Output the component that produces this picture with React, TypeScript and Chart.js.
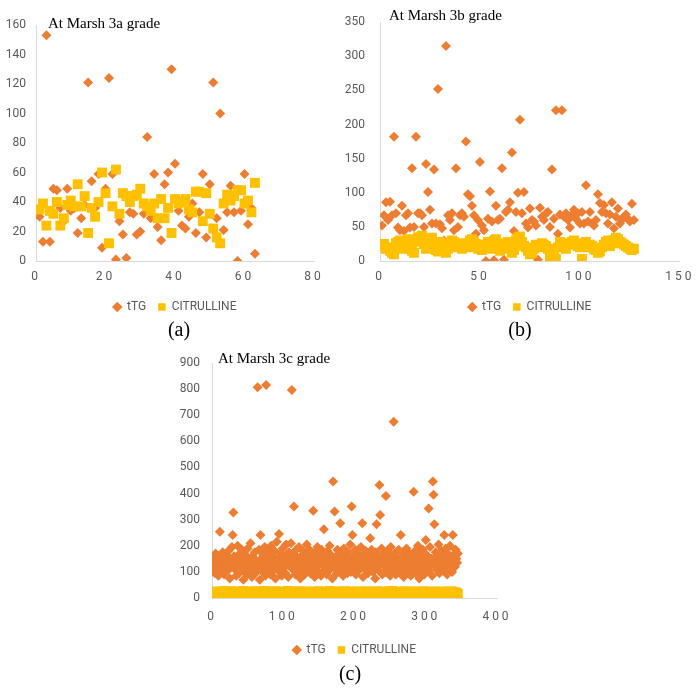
import React, { useEffect, useRef } from "react";
import { Chart, registerables } from "chart.js";
Chart.register(...registerables);

const ORANGE = "#ED7D31";
const GOLD = "#FFC000";
const TICK = "#595959";
const AXIS = "#D9D9D9";
const FONT = "Roboto";
const SERIES = ["tTG", "CITRULLINE"];

// ---------- Panel (a): Marsh 3a ----------
const A_TTG = [
  30, 13, 153, 13, 49, 48, 36, 27, 49, 34, 36, 19, 29, 38, 121, 54, 36, 59, 9, 49,
  124, 59, 1, 27, 18, 2, 33, 32, 18, 20, 32, 84, 29, 59, 23, 14, 52, 60, 130, 66,
  34, 24, 22, 30, 39, 19, 33, 59, 16, 52, 121, 29, 100, 21, 33, 51, 33, 0, 34, 59,
  25, 36, 5,
];
const A_CIT = [
  35, 39, 24, 34, 32, 40, 24, 29, 38, 41, 37, 52, 37, 44, 19, 36, 30, 40, 60, 46,
  12, 37, 62, 32, 46, 44, 40, 44, 45, 49, 39, 37, 34, 39, 29, 42, 29, 36, 19, 42,
  39, 40, 42, 35, 33, 47, 47, 27, 46, 32, 22, 16, 12, 39, 45, 41, 44, 48, 48, 39,
  41, 33, 53,
];
const A_XTICKS = [0, 20, 40, 60, 80];
const A_YTICKS = [0, 20, 40, 60, 80, 100, 120, 140, 160];

// ---------- Panel (b): Marsh 3b ----------
const B_TTG = [
  52, 67, 86, 60, 87, 67, 182, 70, 49, 45, 81, 44, 67, 70, 49, 136, 50, 182, 70, 70,
  67, 50, 142, 101, 75, 55, 134, 55, 252, 54, 48, 30, 315, 67, 60, 70, 45, 136, 50, 67,
  70, 65, 175, 98, 95, 81, 67, 40, 60, 145, 52, 45, 0, 62, 102, 58, 1, 81, 60, 62,
  136, 2, 72, 75, 86, 159, 44, 72, 100, 207, 70, 101, 55, 49, 77, 60, 58, 52, 2, 78,
  65, 60, 70, 72, 50, 134, 62, 221, 40, 68, 221, 65, 70, 60, 49, 68, 75, 62, 70, 55,
  72, 55, 111, 58, 72, 55, 52, 60, 98, 85, 72, 82, 70, 55, 68, 86, 48, 65, 77, 55,
  60, 65, 68, 62, 58, 84, 60,
];
const B_CIT = [
  22, 25, 18, 20, 15, 12, 10, 26, 28, 30, 22, 18, 20, 32, 24, 15, 12, 30, 35, 28,
  37, 25, 18, 20, 30, 34, 22, 16, 14, 28, 26, 20, 12, 18, 25, 30, 28, 22, 20, 24,
  18, 26, 22, 20, 30, 32, 28, 25, 18, 22, 16, 20, 24, 28, 22, 18, 30, 32, 26, 15,
  20, 24, 22, 28, 18, 12, 16, 30, 34, 36, 28, 22, 20, 15, 10, 12, 18, 24, 22, 20,
  26, 24, 22, 18, 6, 12, 16, 3, 20, 28, 24, 22, 18, 25, 26, 28, 30, 24, 22, 20,
  3, 26, 28, 20, 24, 22, 18, 16, 12, 14, 20, 24, 28, 30, 22, 26, 30, 34, 32, 28,
  26, 24, 22, 20, 18, 16, 18,
];
const B_XTICKS = [0, 50, 100, 150];
const B_YTICKS = [0, 50, 100, 150, 200, 250, 300, 350];

// ---------- Panel (c): Marsh 3c ----------
const C_TTG = [
  140, 120, 155, 95, 170, 130, 110, 150, 85, 160, 254, 125, 140, 100, 175, 135, 90, 145, 115, 165,
  130, 105, 180, 150, 75, 140, 120, 195, 241, 327, 160, 110, 135, 85, 150, 200, 125, 95, 170, 140,
  115, 185, 130, 70, 155, 105, 165, 140, 90, 190, 125, 145, 100, 210, 135, 80, 160, 120, 150, 175,
  95, 140, 115, 807, 130, 185, 70, 241, 150, 120, 100, 165, 140, 195, 85, 816, 130, 155, 110, 175,
  145, 90, 200, 125, 160, 105, 140, 180, 75, 135, 215, 120, 150, 245, 100, 170, 130, 85, 190, 140,
  115, 160, 95, 205, 135, 150, 80, 175, 125, 145, 210, 797, 110, 165, 350, 140, 90, 185, 120, 155,
  100, 195, 135, 75, 160, 145, 115, 180, 130, 90, 170, 140, 205, 105, 150, 125, 185, 95, 165, 135,
  110, 334, 150, 80, 175, 140, 120, 195, 130, 100, 160, 145, 85, 185, 125, 170, 263, 105, 150, 135,
  90, 180, 140, 120, 200, 110, 165, 130, 75, 446, 145, 331, 115, 160, 95, 185, 135, 150, 105, 286,
  170, 125, 145, 85, 190, 140, 110, 165, 130, 95, 175, 150, 120, 205, 100, 350, 241, 135, 160, 115,
  185, 90, 145, 130, 170, 105, 155, 120, 195, 140, 286, 80, 165, 135, 110, 180, 125, 150, 95, 170,
  140, 229, 115, 185, 130, 100, 160, 145, 75, 175, 282, 120, 150, 105, 433, 318, 135, 190, 90, 165,
  125, 155, 100, 391, 140, 180, 110, 165, 130, 85, 195, 120, 150, 105, 675, 170, 135, 90, 160, 140,
  115, 185, 130, 95, 241, 150, 120, 175, 80, 160, 140, 105, 190, 125, 155, 100, 170, 135, 85, 165,
  145, 110, 407, 130, 180, 95, 155, 120, 200, 140, 75, 165, 125, 150, 105, 185, 130, 90, 170, 222,
  140, 115, 160, 343, 100, 195, 125, 150, 85, 446, 395, 282, 135, 175, 110, 165, 130, 205, 95, 150,
  125, 180, 140, 105, 160, 241, 120, 190, 135, 90, 170, 145, 115, 200, 130, 155, 100, 241, 165, 140,
  120, 185, 150, 135, 170,
];
const C_CIT = [
  12, 18, 8, 22, 15, 25, 10, 20, 14, 6, 19, 24, 11, 16, 21, 9, 27, 13, 17, 5,
  20, 14, 23, 10, 18, 26, 7, 15, 21, 12, 24, 9, 17, 19, 4, 22, 13, 25, 11, 16,
  8, 21, 15, 27, 12, 18, 6, 23, 14, 20, 10, 25, 16, 9, 22, 13, 19, 7, 24, 11,
  17, 26, 10, 15, 21, 5, 19, 12, 24, 14, 8, 22, 16, 27, 11, 18, 9, 20, 13, 23,
  15, 7, 21, 12, 25, 17, 10, 19, 14, 26, 6, 22, 11, 16, 20, 13, 24, 8, 18, 15,
  23, 9, 17, 21, 12, 27, 14, 6, 19, 25, 11, 16, 22, 8, 20, 13, 24, 10, 18, 15,
  21, 12, 26, 7, 16, 19, 11, 24, 14, 9, 22, 17, 13, 25, 6, 20, 15, 18, 10, 23,
  14, 19, 8, 24, 12, 17, 22, 10, 26, 15, 5, 20, 13, 18, 23, 9, 16, 21, 11, 25,
  17, 11, 22, 14, 27, 8, 19, 13, 24, 16, 10, 21, 6, 18, 25, 12, 20, 15, 9, 23,
  12, 24, 16, 9, 20, 14, 26, 11, 18, 7, 22, 15, 19, 10, 25, 13, 17, 21, 8, 16,
  22, 10, 18, 25, 13, 16, 7, 21, 14, 24, 11, 19, 9, 23, 15, 17, 26, 12, 20, 6,
  15, 21, 11, 17, 24, 8, 19, 14, 22, 10, 26, 13, 18, 7, 20, 16, 23, 12, 25, 9,
  18, 13, 23, 6, 17, 21, 12, 25, 15, 10, 20, 14, 27, 9, 16, 22, 11, 19, 24, 13,
  10, 20, 15, 24, 8, 18, 22, 12, 16, 26, 11, 19, 14, 21, 7, 17, 25, 13, 20, 9,
  23, 14, 18, 11, 25, 16, 9, 21, 13, 19, 24, 10, 17, 22, 8, 15, 26, 12, 20, 14,
  11, 22, 16, 8, 19, 24, 13, 17, 10, 21, 15, 25, 7, 18, 23, 12, 20, 14, 9, 16,
  20, 12, 25, 15, 9, 18, 22, 11, 16, 24, 13, 19, 8, 21, 14, 26, 10, 17, 23, 12,
  18, 14, 21, 10, 16,
];
const C_XTICKS = [0, 100, 200, 300, 400];
const C_YTICKS = [0, 100, 200, 300, 400, 500, 600, 700, 800, 900];

type PanelCfg = {
  key: string;
  title: string;
  caption: string;
  ttg: number[];
  cit: number[];
  xTicks: number[];
  yTicks: number[];
  box: { left: number; top: number; w: number; h: number };
  pad: { left: number; top: number; right: number; bottom: number };
  yW: number;
  xH: number;
  yGap: number;
  xGap: number;
  rT: number;
  rC: number;
  titlePos: { x: number; y: number };
  capPos: { x: number; y: number };
};

const PANELS: PanelCfg[] = [
  {
    key: "a", title: "At Marsh 3a grade", caption: "(a)",
    ttg: A_TTG, cit: A_CIT, xTicks: A_XTICKS, yTicks: A_YTICKS,
    box: { left: 0, top: 0, w: 340, h: 323 },
    pad: { left: 0, top: 25, right: 26, bottom: 0 },
    yW: 36, xH: 28, yGap: 10, xGap: 9, rT: 5, rC: 7,
    titlePos: { x: 48, y: 16 }, capPos: { x: 179, y: 319 },
  },
  {
    key: "b", title: "At Marsh 3b grade", caption: "(b)",
    ttg: B_TTG, cit: B_CIT, xTicks: B_XTICKS, yTicks: B_YTICKS,
    box: { left: 340, top: 0, w: 359, h: 323 },
    pad: { left: 0, top: 14, right: 17, bottom: 0 },
    yW: 40, xH: 28, yGap: 15, xGap: 9, rT: 5, rC: 7,
    titlePos: { x: 389, y: 8 }, capPos: { x: 520, y: 319 },
  },
  {
    key: "c", title: "At Marsh 3c grade", caption: "(c)",
    ttg: C_TTG, cit: C_CIT, xTicks: C_XTICKS, yTicks: C_YTICKS,
    box: { left: 160, top: 340, w: 370, h: 326 },
    pad: { left: 12, top: 23, right: 33, bottom: 0 },
    yW: 40, xH: 34, yGap: 12, xGap: 12, rT: 5, rC: 7,
    titlePos: { x: 218, y: 351 }, capPos: { x: 350, y: 663 },
  },
];

function Panel({ cfg }: { cfg: PanelCfg }) {
  const ref = useRef<HTMLCanvasElement>(null);
  useEffect(() => {
    const canvas = ref.current;
    if (!canvas) return;
    const toPts = (ys: number[]) => ys.map((y, i) => ({ x: i + 1, y }));
    const tickFont = { family: FONT, size: 12 };
    const chart = new Chart(canvas, {
      type: "scatter",
      data: {
        datasets: [
          {
            label: SERIES[0],
            data: toPts(cfg.ttg),
            backgroundColor: ORANGE,
            borderColor: ORANGE,
            borderWidth: 0,
            pointStyle: "rectRot",
            pointRadius: cfg.rT,
            order: 1,
          },
          {
            label: SERIES[1],
            data: toPts(cfg.cit),
            backgroundColor: GOLD,
            borderColor: GOLD,
            borderWidth: 0,
            pointStyle: "rect",
            pointRadius: cfg.rC,
            order: 0,
          },
        ],
      },
      options: {
        responsive: false,
        animation: false,
        events: [],
        layout: { padding: cfg.pad },
        plugins: {
          legend: {
            position: "bottom",
            fullSize: false,
            labels: {
              usePointStyle: true,
              boxWidth: 7.5,
              boxHeight: 7.5,
              padding: 12,
              color: TICK,
              font: { family: FONT, size: 12 },
              sort: (a: any, b: any) => a.datasetIndex - b.datasetIndex,
            },
          },
          tooltip: { enabled: false },
          title: { display: false },
        },
        scales: {
          x: {
            type: "linear",
            min: cfg.xTicks[0],
            max: cfg.xTicks[cfg.xTicks.length - 1],
            grid: { display: false, drawTicks: false },
            border: { display: true, color: AXIS, width: 1 },
            ticks: { color: TICK, font: tickFont, padding: cfg.xGap, maxRotation: 0, autoSkip: false },
            afterBuildTicks: (s: any) => {
              s.ticks = cfg.xTicks.map((v) => ({ value: v }));
            },
            afterFit: (s: any) => {
              s.height = cfg.xH;
            },
          },
          y: {
            type: "linear",
            min: cfg.yTicks[0],
            max: cfg.yTicks[cfg.yTicks.length - 1],
            grid: { display: false, drawTicks: false },
            border: { display: true, color: AXIS, width: 1 },
            ticks: { color: TICK, font: tickFont, padding: cfg.yGap, autoSkip: false },
            afterBuildTicks: (s: any) => {
              s.ticks = cfg.yTicks.map((v) => ({ value: v }));
            },
            afterFit: (s: any) => {
              s.width = cfg.yW;
            },
          },
        },
      } as any,
    });
    // letter-spaced x tick labels, as in the reference
    const xs: any = chart.scales.x;
    const orig = xs.drawLabels;
    xs.drawLabels = function (area: any) {
      const c: any = this.ctx;
      c.save();
      c.letterSpacing = "3px";
      orig.call(this, area);
      c.restore();
    };
    chart.draw();
    return () => chart.destroy();
  }, [cfg]);

  return (
    <>
      <canvas
        ref={ref}
        width={cfg.box.w}
        height={cfg.box.h}
        style={{ position: "absolute", left: cfg.box.left, top: cfg.box.top, width: cfg.box.w, height: cfg.box.h }}
      />
      <div
        style={{
          position: "absolute",
          left: cfg.titlePos.x,
          top: cfg.titlePos.y,
          fontFamily: '"Liberation Serif", "Times New Roman", serif',
          fontSize: 15,
          lineHeight: "15px",
          color: "#000",
          whiteSpace: "nowrap",
        }}
      >
        {cfg.title}
      </div>
      <div
        style={{
          position: "absolute",
          left: cfg.capPos.x - 30,
          top: cfg.capPos.y,
          width: 60,
          textAlign: "center",
          fontFamily: '"Liberation Serif", "Times New Roman", serif',
          fontSize: 20,
          lineHeight: "20px",
          color: "#000",
        }}
      >
        {cfg.caption}
      </div>
    </>
  );
}

export default function App() {
  return (
    <div
      style={{
        position: "absolute",
        left: 0,
        top: 0,
        width: 699,
        height: 692,
        background: "#fff",
        overflow: "hidden",
      }}
    >
      {PANELS.map((p) => (
        <Panel key={p.key} cfg={p} />
      ))}
    </div>
  );
}
